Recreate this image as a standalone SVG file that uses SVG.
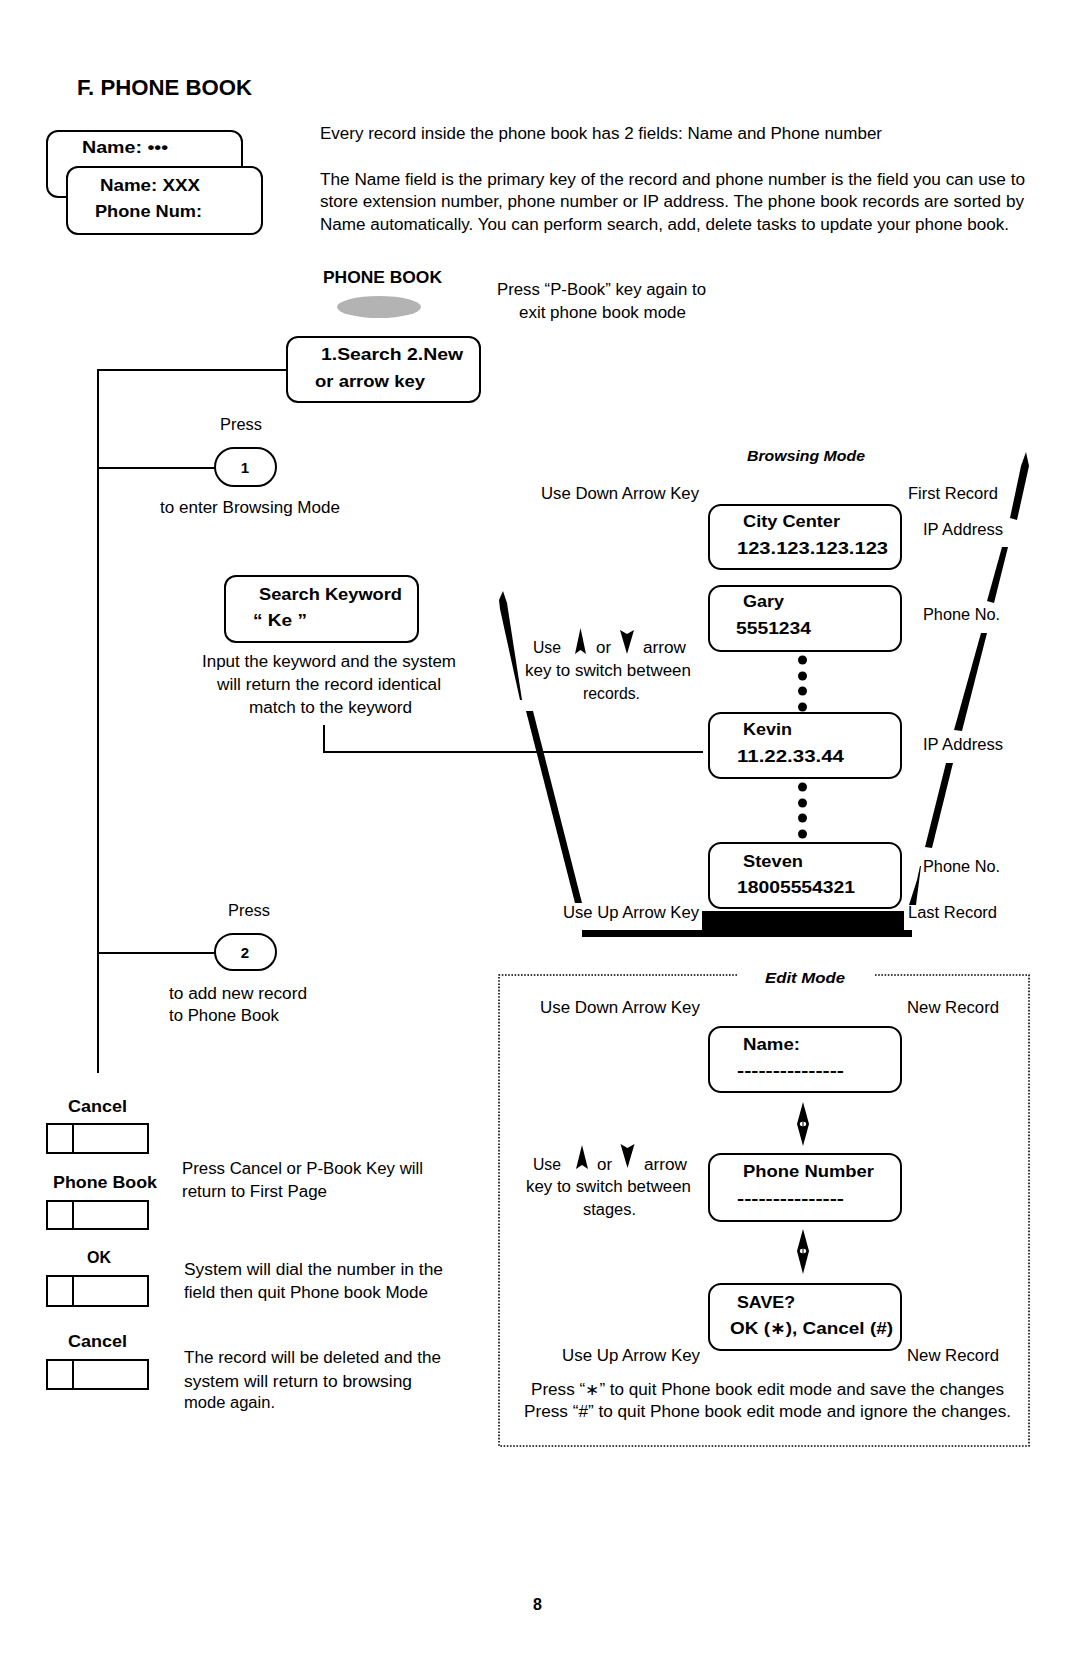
<svg xmlns="http://www.w3.org/2000/svg" width="1080" height="1669" viewBox="0 0 1080 1669">
<style>
text{font-family:"Liberation Sans",Arial,"DejaVu Sans",sans-serif;fill:#000}
.t{font-size:16px}
.b{font-size:17px;font-weight:bold}
.bi{font-size:15px;font-weight:bold;font-style:italic}
.box{fill:#fff;stroke:#000;stroke-width:2}
.key{fill:#fff;stroke:#000;stroke-width:2}
.ln{fill:none;stroke:#000;stroke-width:2}
.thick{fill:#000;stroke:none}
.dot{fill:#000}
.dotted{fill:none;stroke:#000;stroke-width:1.6;stroke-dasharray:1.6 1.6}
</style>
<rect width="1080" height="1669" fill="#fff"/>

<text x="77" y="95" font-size="22" font-weight="bold" textLength="175" lengthAdjust="spacingAndGlyphs">F. PHONE BOOK</text>

<g id="record-card">
<rect class="box" x="47" y="131" width="195" height="66" rx="11"/>
<text class="b" x="82" y="153" textLength="86" lengthAdjust="spacingAndGlyphs">Name: •••</text>
<rect class="box" x="67" y="167" width="195" height="67" rx="11"/>
<text class="b" x="100" y="191" textLength="100" lengthAdjust="spacingAndGlyphs">Name: XXX</text>
<text class="b" x="95" y="217" textLength="107" lengthAdjust="spacingAndGlyphs">Phone Num:</text>
</g>

<g id="intro-text">
<text class="t" x="320" y="139" textLength="562" lengthAdjust="spacingAndGlyphs">Every record inside the phone book has 2 fields: Name and Phone number</text>
<text class="t" x="320" y="185" textLength="705" lengthAdjust="spacingAndGlyphs">The Name field is the primary key of the record and phone number is the field you can use to</text>
<text class="t" x="320" y="207" textLength="704" lengthAdjust="spacingAndGlyphs">store extension number, phone number or IP address. The phone book records are sorted by</text>
<text class="t" x="320" y="230" textLength="689" lengthAdjust="spacingAndGlyphs">Name automatically. You can perform search, add, delete tasks to update your phone book.</text>
</g>

<g id="pbook-key">
<text class="b" x="323" y="283" textLength="119" lengthAdjust="spacingAndGlyphs">PHONE BOOK</text>
<ellipse cx="379" cy="307" rx="42" ry="11" fill="#b3b3b3"/>
<text class="t" x="497" y="295" textLength="209" lengthAdjust="spacingAndGlyphs">Press “P-Book” key again to</text>
<text class="t" x="519" y="318" textLength="167" lengthAdjust="spacingAndGlyphs">exit phone book mode</text>
</g>

<g id="connectors">
<line class="ln" x1="98" y1="369" x2="98" y2="1073"/>
<line class="ln" x1="98" y1="370" x2="287" y2="370" stroke-width="1.6"/>
<line class="ln" x1="98" y1="468" x2="215" y2="468" stroke-width="1.6"/>
<line class="ln" x1="98" y1="953" x2="215" y2="953" stroke-width="1.6"/>
<polyline class="ln" points="324,725 324,752 703,752" stroke-width="1.6"/>
<polygon class="thick" points="503,591 507,603 522,700 520,700 500,609 499,600"/>
<polygon class="thick" points="526,711 533,711 582,903 575,903"/>
<polygon class="thick" points="1026,452 1029,466 1017,520 1010,518 1021,466"/>
<polygon class="thick" points="1002,547 1008,547 994,603 987,601"/>
<polygon class="thick" points="981,633 987,633 962,731 954,730"/>
<polygon class="thick" points="946,763 953,763 932,848 925,847"/>
<polygon class="thick" points="920,866 921,866 916,905 909,905 917,880"/>
<rect class="thick" x="702" y="911" width="202" height="20"/>
<rect class="thick" x="582" y="930" width="330" height="7"/>
<circle class="dot" cx="802.5" cy="660" r="4.5"/>
<circle class="dot" cx="802.5" cy="676" r="4.5"/>
<circle class="dot" cx="802.5" cy="691" r="4.5"/>
<circle class="dot" cx="802.5" cy="707" r="4.5"/>
<circle class="dot" cx="802.5" cy="787" r="4.5"/>
<circle class="dot" cx="802.5" cy="803" r="4.5"/>
<circle class="dot" cx="802.5" cy="818" r="4.5"/>
<circle class="dot" cx="802.5" cy="834" r="4.5"/>
<g id="edit-arrow-1">
<polygon class="thick" points="803,1102 809,1124 803,1146 797,1124"/>
<ellipse cx="803" cy="1124" rx="3.2" ry="2.2" fill="#fff"/>
<line x1="803" y1="1122" x2="803" y2="1126" stroke="#000" stroke-width="1"/>
</g>
<g id="edit-arrow-2">
<polygon class="thick" points="803,1229 809,1251 803,1274 797,1251"/>
<ellipse cx="803" cy="1251" rx="3.2" ry="2.2" fill="#fff"/>
<line x1="803" y1="1249" x2="803" y2="1253" stroke="#000" stroke-width="1"/>
</g>
</g>

<g id="menu-box">
<rect class="box" x="287" y="337" width="193" height="65" rx="11"/>
<text class="b" x="321" y="360" textLength="142" lengthAdjust="spacingAndGlyphs">1.Search 2.New</text>
<text class="b" x="315" y="387" textLength="110" lengthAdjust="spacingAndGlyphs">or arrow key</text>
</g>

<g id="key-1">
<text class="t" x="220" y="430" textLength="42" lengthAdjust="spacingAndGlyphs">Press</text>
<rect class="box" x="215" y="448" width="61" height="38" rx="19" stroke-width="1.6"/>
<text x="245" y="473" font-size="15" font-weight="bold" text-anchor="middle">1</text>
<text class="t" x="160" y="513" textLength="180" lengthAdjust="spacingAndGlyphs">to enter Browsing Mode</text>
</g>

<g id="search-box">
<rect class="box" x="225" y="576" width="193" height="66" rx="11"/>
<text class="b" x="259" y="600" textLength="143" lengthAdjust="spacingAndGlyphs">Search Keyword</text>
<text class="b" x="253" y="626" textLength="54" lengthAdjust="spacingAndGlyphs">“ Ke ”</text>
<text class="t" x="202" y="667" textLength="254" lengthAdjust="spacingAndGlyphs">Input the keyword and the system</text>
<text class="t" x="217" y="690" textLength="224" lengthAdjust="spacingAndGlyphs">will return the record identical</text>
<text class="t" x="249" y="713" textLength="163" lengthAdjust="spacingAndGlyphs">match to the keyword</text>
</g>

<g id="key-2">
<text class="t" x="228" y="916" textLength="42" lengthAdjust="spacingAndGlyphs">Press</text>
<rect class="box" x="215" y="934" width="61" height="36" rx="18" stroke-width="1.6"/>
<text x="245" y="958" font-size="15" font-weight="bold" text-anchor="middle">2</text>
<text class="t" x="169" y="999" textLength="138" lengthAdjust="spacingAndGlyphs">to add new record</text>
<text class="t" x="169" y="1021" textLength="110" lengthAdjust="spacingAndGlyphs">to Phone Book</text>
</g>

<g id="browsing-mode">
<text class="bi" x="747" y="461" textLength="118" lengthAdjust="spacingAndGlyphs">Browsing Mode</text>
<text class="t" x="541" y="499" textLength="158" lengthAdjust="spacingAndGlyphs">Use Down Arrow Key</text>
<text class="t" x="908" y="499" textLength="90" lengthAdjust="spacingAndGlyphs">First Record</text>
<text class="t" x="923" y="535" textLength="80" lengthAdjust="spacingAndGlyphs">IP Address</text>
<text class="t" x="923" y="620" textLength="77" lengthAdjust="spacingAndGlyphs">Phone No.</text>
<text class="t" x="923" y="750" textLength="80" lengthAdjust="spacingAndGlyphs">IP Address</text>
<text class="t" x="923" y="872" textLength="77" lengthAdjust="spacingAndGlyphs">Phone No.</text>
<text class="t" x="563" y="918" textLength="136" lengthAdjust="spacingAndGlyphs">Use Up Arrow Key</text>
<text class="t" x="908" y="918" textLength="89" lengthAdjust="spacingAndGlyphs">Last Record</text>
<text class="t" x="533" y="653" textLength="28" lengthAdjust="spacingAndGlyphs">Use</text>
<path class="thick" d="M580.5,628 L586,654 L580.5,650 L575,654 Z"/>
<text class="t" x="596" y="653" textLength="15" lengthAdjust="spacingAndGlyphs">or</text>
<path class="thick" d="M620,630 L627,634 L634,630 L627,654 Z"/>
<text class="t" x="643" y="653" textLength="43" lengthAdjust="spacingAndGlyphs">arrow</text>
<text class="t" x="525" y="676" textLength="166" lengthAdjust="spacingAndGlyphs">key to switch between</text>
<text class="t" x="583" y="699" textLength="57" lengthAdjust="spacingAndGlyphs">records.</text>
</g>

<g id="rec-city">
<rect class="box" x="709" y="505" width="192" height="64" rx="12"/>
<text class="b" x="743" y="527" textLength="97" lengthAdjust="spacingAndGlyphs">City Center</text>
<text class="b" x="737" y="554" textLength="151" lengthAdjust="spacingAndGlyphs">123.123.123.123</text>
</g>
<g id="rec-gary">
<rect class="box" x="709" y="586" width="192" height="65" rx="12"/>
<text class="b" x="743" y="607" textLength="41" lengthAdjust="spacingAndGlyphs">Gary</text>
<text class="b" x="736" y="634" textLength="75" lengthAdjust="spacingAndGlyphs">5551234</text>
</g>
<g id="rec-kevin">
<rect class="box" x="709" y="713" width="192" height="65" rx="12"/>
<text class="b" x="743" y="735" textLength="49" lengthAdjust="spacingAndGlyphs">Kevin</text>
<text class="b" x="737" y="762" textLength="107" lengthAdjust="spacingAndGlyphs">11.22.33.44</text>
</g>
<g id="rec-steven">
<rect class="box" x="709" y="843" width="192" height="65" rx="12"/>
<text class="b" x="743" y="867" textLength="60" lengthAdjust="spacingAndGlyphs">Steven</text>
<text class="b" x="737" y="893" textLength="118" lengthAdjust="spacingAndGlyphs">18005554321</text>
</g>

<g id="edit-mode">
<polyline class="dotted" points="737,975 499,975 499,1446 1029,1446 1029,975 875,975"/>
<text class="bi" x="765" y="983" textLength="80" lengthAdjust="spacingAndGlyphs">Edit Mode</text>
<text class="t" x="540" y="1013" textLength="160" lengthAdjust="spacingAndGlyphs">Use Down Arrow Key</text>
<text class="t" x="907" y="1013" textLength="92" lengthAdjust="spacingAndGlyphs">New Record</text>
<text class="t" x="533" y="1170" textLength="28" lengthAdjust="spacingAndGlyphs">Use</text>
<path class="thick" d="M582,1145 L588,1169 L582,1165 L576,1169 Z"/>
<text class="t" x="597" y="1170" textLength="15" lengthAdjust="spacingAndGlyphs">or</text>
<path class="thick" d="M620.5,1144 L627.5,1148 L634.5,1144 L627.5,1168 Z"/>
<text class="t" x="644" y="1170" textLength="43" lengthAdjust="spacingAndGlyphs">arrow</text>
<text class="t" x="526" y="1192" textLength="165" lengthAdjust="spacingAndGlyphs">key to switch between</text>
<text class="t" x="583" y="1215" textLength="53" lengthAdjust="spacingAndGlyphs">stages.</text>
<text class="t" x="562" y="1361" textLength="138" lengthAdjust="spacingAndGlyphs">Use Up Arrow Key</text>
<text class="t" x="907" y="1361" textLength="92" lengthAdjust="spacingAndGlyphs">New Record</text>
<text class="t" x="531" y="1395" textLength="473" lengthAdjust="spacingAndGlyphs">Press “∗” to quit Phone book edit mode and save the changes</text>
<text class="t" x="524" y="1417" textLength="487" lengthAdjust="spacingAndGlyphs">Press “#” to quit Phone book edit mode and ignore the changes.</text>
</g>

<g id="edit-name">
<rect class="box" x="709" y="1027" width="192" height="65" rx="12"/>
<text class="b" x="743" y="1050" textLength="57" lengthAdjust="spacingAndGlyphs">Name:</text>
<text class="b" x="737" y="1076" textLength="107" lengthAdjust="spacingAndGlyphs">---------------</text>
</g>
<g id="edit-phone">
<rect class="box" x="709" y="1154" width="192" height="67" rx="12"/>
<text class="b" x="743" y="1177" textLength="131" lengthAdjust="spacingAndGlyphs">Phone Number</text>
<text class="b" x="737" y="1204" textLength="107" lengthAdjust="spacingAndGlyphs">---------------</text>
</g>
<g id="edit-save">
<rect class="box" x="709" y="1284" width="192" height="66" rx="12"/>
<text class="b" x="737" y="1308" textLength="58" lengthAdjust="spacingAndGlyphs">SAVE?</text>
<text class="b" x="730" y="1334" textLength="163" lengthAdjust="spacingAndGlyphs">OK (∗), Cancel (#)</text>
</g>

<g id="key-cancel-1">
<text class="b" x="68" y="1112" textLength="59" lengthAdjust="spacingAndGlyphs">Cancel</text>
<rect class="key" x="47" y="1124" width="101" height="29"/>
<line class="ln" x1="73" y1="1124" x2="73" y2="1153"/>
</g>
<g id="key-phonebook">
<text class="b" x="53" y="1188" textLength="104" lengthAdjust="spacingAndGlyphs">Phone Book</text>
<rect class="key" x="47" y="1201" width="101" height="28"/>
<line class="ln" x1="73" y1="1201" x2="73" y2="1229"/>
</g>
<g id="key-ok">
<text class="b" x="87" y="1263" textLength="24" lengthAdjust="spacingAndGlyphs">OK</text>
<rect class="key" x="47" y="1276" width="101" height="30"/>
<line class="ln" x1="73" y1="1276" x2="73" y2="1306"/>
</g>
<g id="key-cancel-2">
<text class="b" x="68" y="1347" textLength="59" lengthAdjust="spacingAndGlyphs">Cancel</text>
<rect class="key" x="47" y="1360" width="101" height="29"/>
<line class="ln" x1="73" y1="1360" x2="73" y2="1389"/>
</g>
<g id="key-notes">
<text class="t" x="182" y="1174" textLength="241" lengthAdjust="spacingAndGlyphs">Press Cancel or P-Book Key will</text>
<text class="t" x="182" y="1197" textLength="145" lengthAdjust="spacingAndGlyphs">return to First Page</text>
<text class="t" x="184" y="1275" textLength="259" lengthAdjust="spacingAndGlyphs">System will dial the number in the</text>
<text class="t" x="184" y="1298" textLength="244" lengthAdjust="spacingAndGlyphs">field then quit Phone book Mode</text>
<text class="t" x="184" y="1363" textLength="257" lengthAdjust="spacingAndGlyphs">The record will be deleted and the</text>
<text class="t" x="184" y="1387" textLength="228" lengthAdjust="spacingAndGlyphs">system will return to browsing</text>
<text class="t" x="184" y="1408" textLength="91" lengthAdjust="spacingAndGlyphs">mode again.</text>
</g>

<text x="533" y="1610" font-size="16" font-weight="bold">8</text>
</svg>
